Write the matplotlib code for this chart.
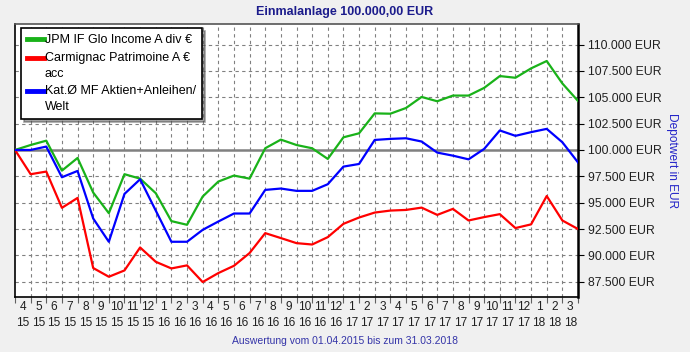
import matplotlib
matplotlib.use('Agg')
import matplotlib.pyplot as plt
import numpy as np

plt.rcParams['font.family'] = ['Liberation Sans', 'DejaVu Sans']

# Monatsenden 31.03.2015 .. 31.03.2018
monate = ['4', '5', '6', '7', '8', '9', '10', '11', '12', '1', '2', '3',
          '4', '5', '6', '7', '8', '9', '10', '11', '12', '1', '2', '3',
          '4', '5', '6', '7', '8', '9', '10', '11', '12', '1', '2', '3']
jahre = ['15'] * 9 + ['16'] * 12 + ['17'] * 12 + ['18'] * 3

jpm = [100000, 100470, 100880, 98040, 99240, 95960, 94000, 97700, 97280, 95900,
       93250, 92900, 95580, 97000, 97570, 97280, 100160, 100980, 100470, 100160,
       99150, 101200, 101580, 103470, 103440, 103980, 105030, 104620, 105160, 105160,
       105890, 107010, 106850, 107740, 108440, 106310, 104650]
carmignac = [100000, 97700, 97950, 94510, 95450, 88800, 87970, 88570, 90750, 89390,
             88760, 89050, 87470, 88320, 89010, 90220, 92110, 91640, 91160, 91030,
             91730, 92990, 93590, 94060, 94250, 94310, 94530, 93840, 94410, 93310,
             93630, 93910, 92590, 92940, 95630, 93310, 92500]
kat = [100000, 100000, 100320, 97410, 98010, 93500, 91290, 95830, 97220, 94250,
       91290, 91290, 92420, 93210, 93970, 93970, 96210, 96340, 96120, 96120,
       96750, 98420, 98670, 100950, 101050, 101110, 100800, 99750, 99460, 99110,
       100100, 101850, 101340, 101690, 102000, 100730, 98820]

namen = ['JPM IF Glo Income A div €', 'Carmignac Patrimoine A €\nacc',
         'Kat.Ø MF Aktien+Anleihen/\nWelt']
farben = ['#19b219', '#ff0000', '#0000ff']

yticks = np.arange(87500, 110001, 2500)

fig = plt.figure(figsize=(6.9, 3.52), dpi=100, facecolor='#f0f0f0')
ax = fig.add_axes([15/690, 55/352, 563/690, 273/352])
ax.set_facecolor('white')

x = np.arange(len(jpm))
for werte, name, farbe in zip([jpm, carmignac, kat], namen, farben):
    ax.plot(x, werte, color=farbe, lw=1.6, label=name, zorder=3)

ax.axhline(100000, color='#808080', lw=1.8, zorder=2)

ax.set_xlim(0, 36)
ax.set_ylim(86050, 111950)

# Gitter
for xv in x[1:-1]:
    ax.axvline(xv, color='#808080', lw=0.8, ls=(0, (3, 3)), zorder=1)
for yv in yticks:
    if yv != 100000:
        ax.axhline(yv, color='#808080', lw=0.8, ls=(0, (3, 3)), zorder=1)

ax.set_xticks(x)
ax.set_xticklabels([])
ax.set_xticks(x[:-1] + 0.5, minor=True)
ax.set_xticklabels([m + '\n' + j for m, j in zip(monate, jahre)], minor=True,
                   fontsize=8.6, color='#202020', linespacing=1.45)
ax.tick_params(axis='x', which='major', length=4, direction='out', color='#606060')
ax.tick_params(axis='x', which='minor', length=0, pad=3)

ax.yaxis.tick_right()
ax.set_yticks(yticks)
ax.set_yticklabels([f'{v:,.0f}'.replace(',', '.') + ' EUR' for v in yticks],
                   fontsize=8.8, color='#202020')
ax.tick_params(axis='y', length=4, direction='out', pad=3)
ax.yaxis.set_label_position('right')
ax.set_ylabel('Depotwert in EUR', rotation=270, color='#2424c8', fontsize=8.6,
              labelpad=12)

for s in ['left', 'bottom']:
    ax.spines[s].set_color('black')
    ax.spines[s].set_linewidth(1.2)
ax.spines['right'].set_linewidth(1.8)
ax.spines['top'].set_color('#555555')
ax.spines['top'].set_linewidth(1.2)

leg = ax.legend(loc='upper left', bbox_to_anchor=(0.0107, 0.985), borderaxespad=0,
                fontsize=9, frameon=True, fancybox=False, shadow=True,
                handlelength=1.3, handletextpad=0.1, labelspacing=0.45,
                borderpad=0.5)
leg.get_frame().set_edgecolor('black')
leg.get_frame().set_linewidth(1.2)
for t in leg.get_texts():
    t.set_linespacing(1.4)
for i, line in enumerate(leg.get_lines()):
    line.set_linewidth(3.5)
    if i > 0:
        # Linie auf Hoehe der ersten Textzeile
        line.set_ydata(np.asarray(line.get_ydata()) + 6)

fig.text(0.5, 1 - 12/352, 'Einmalanlage 100.000,00 EUR', ha='center', va='center',
         fontsize=9, fontweight='bold', color='#1c1c8c')
fig.text(0.5, 1 - 341/352, 'Auswertung vom 01.04.2015 bis zum 31.03.2018',
         ha='center', va='center', fontsize=7.5, color='#3434a8')

plt.savefig('out.png', dpi=100, facecolor=fig.get_facecolor())
